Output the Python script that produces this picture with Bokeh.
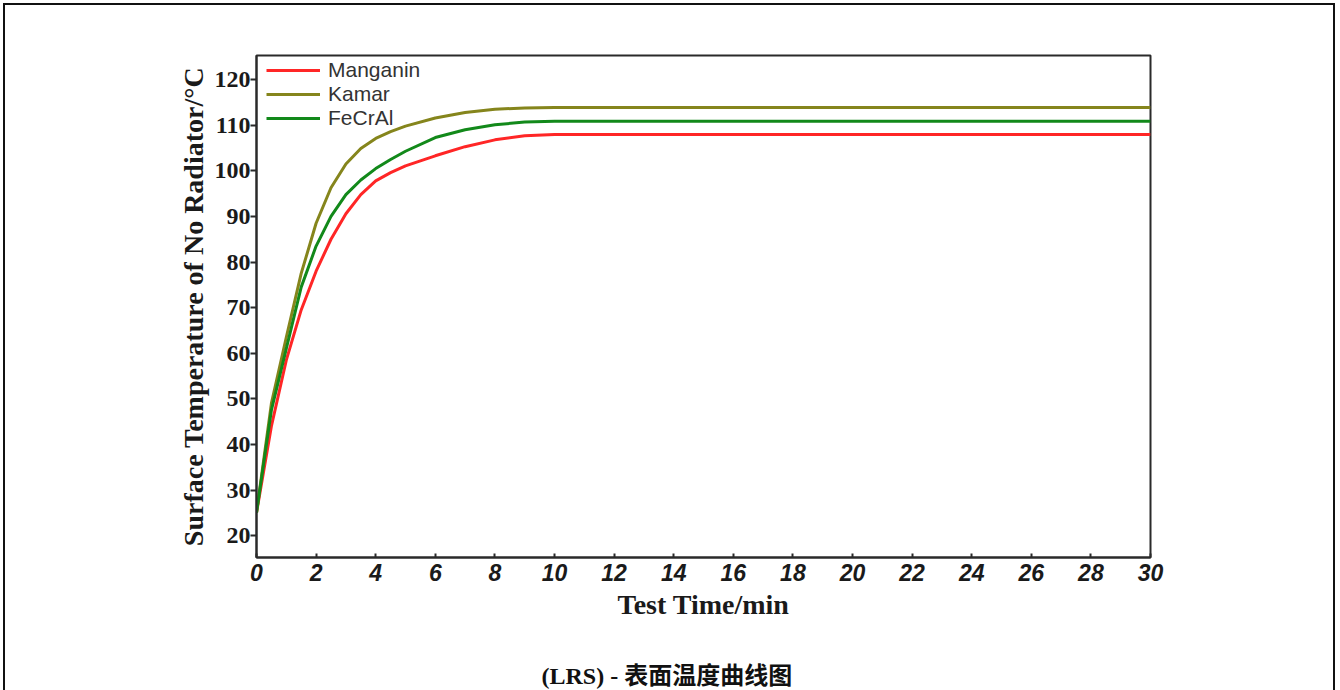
from bokeh.plotting import figure
from bokeh.models import Range1d, FixedTicker, Legend, LegendItem, LinearAxis, Title
from bokeh.embed import file_html
from bokeh.resources import INLINE

# ---- data ----
time_min = [0, 0.5, 1, 1.5, 2, 2.5, 3, 3.5, 4, 4.5, 5, 6, 7, 8, 9, 10, 12, 14, 16, 18, 20, 22, 24, 26, 28, 30]
manganin = [25, 44, 58.5, 69.5, 78, 85, 90.6, 94.8, 97.8, 99.6, 101.1, 103.3, 105.3, 106.8, 107.7, 108, 108, 108, 108, 108, 108, 108, 108, 108, 108, 108]
kamar = [25, 49, 63.5, 77.5, 88.5, 96.3, 101.5, 104.9, 107.1, 108.6, 109.8, 111.6, 112.8, 113.5, 113.8, 113.9, 113.9, 113.9, 113.9, 113.9, 113.9, 113.9, 113.9, 113.9, 113.9, 113.9]
fecral = [25, 47.5, 61, 74.5, 83.5, 90, 94.8, 98, 100.5, 102.5, 104.3, 107.3, 109, 110.1, 110.7, 110.9, 110.9, 110.9, 110.9, 110.9, 110.9, 110.9, 110.9, 110.9, 110.9, 110.9]
series_names = ["Manganin", "Kamar", "FeCrAl"]
series_colors = ["#ff2626", "#85851c", "#12891a"]
x_ticks = list(range(0, 31, 2))
y_ticks = list(range(20, 121, 10))
x_title = "Test Time/min"
y_title = "Surface Temperature of No Radiator/°C"
caption = "(LRS) -  表面温度曲线图"

W, H = 1338, 690
page_border = ("inset 3px 0 0 0 #ffffff, inset -3px 0 0 0 #ffffff, inset 0 3px 0 0 #ffffff, "
               "inset 5px 0 0 0 #111111, inset -5px 0 0 0 #111111, inset 0 5px 0 0 #111111")
p = figure(width=W, height=H, output_backend="svg", toolbar_location=None,
           x_range=Range1d(0, 30), y_range=Range1d(15.2, 125.3),
           min_border_left=256, min_border_right=W - 1150,
           min_border_top=55, min_border_bottom=H - 557,
           background_fill_color="white", border_fill_alpha=0,
           styles={"background-color": "#ffffff", "box-shadow": page_border})
p.grid.visible = False
p.outline_line_color = "#2a2a2a"
p.outline_line_width = 2

renderers = []
for ys, c in zip([manganin, kamar, fecral], series_colors):
    r = p.line(time_min, ys, line_color=c, line_width=3)
    renderers.append(r)

# axes
xa = p.xaxis[0]
xa.ticker = FixedTicker(ticks=x_ticks)
xa.major_tick_in = 4
xa.major_tick_out = 0
xa.minor_tick_in = 0
xa.minor_tick_out = 0
xa.axis_line_color = "#2a2a2a"
xa.axis_line_width = 2
xa.major_tick_line_color = "#2a2a2a"
xa.major_tick_line_width = 2
xa.major_label_text_font = "Liberation Sans"
xa.major_label_text_font_style = "bold italic"
xa.major_label_text_font_size = "23px"
xa.major_label_text_color = "#1a1a1a"
xa.major_label_standoff = 6
xa.axis_label = x_title
xa.axis_label_text_font = "Liberation Serif"
xa.axis_label_text_font_style = "bold"
xa.axis_label_text_font_size = "28px"
xa.axis_label_text_color = "#1a1a1a"
xa.axis_label_standoff = 5

# invisible spacer axis below the x axis, then the caption as a title
spacer = LinearAxis(ticker=FixedTicker(ticks=[]),
                    axis_line_alpha=0, major_tick_line_alpha=0, minor_tick_line_alpha=0,
                    major_tick_in=0, major_tick_out=0, minor_tick_in=0, minor_tick_out=0,
                    major_label_text_font_size="0px", major_label_standoff=0,
                    axis_label=" ", axis_label_standoff=33,
                    axis_label_text_font_size="1px", axis_label_text_alpha=0)
p.add_layout(spacer, "below")
p.add_layout(Title(text=caption, align="left", offset=285, standoff=2,
                   text_font="Liberation Serif, 'Noto Sans CJK SC'",
                   text_font_style="bold", text_font_size="24px", text_color="#111111"), "below")

ya = p.yaxis[0]
ya.ticker = FixedTicker(ticks=y_ticks)
ya.major_tick_in = 0
ya.major_tick_out = 6
ya.minor_tick_in = 0
ya.minor_tick_out = 0
ya.axis_line_color = "#2a2a2a"
ya.axis_line_width = 2
ya.major_tick_line_color = "#2a2a2a"
ya.major_tick_line_width = 2
ya.major_label_text_font = "Liberation Serif"
ya.major_label_text_font_style = "bold"
ya.major_label_text_font_size = "24px"
ya.major_label_text_color = "#1a1a1a"
ya.major_label_standoff = 0
ya.axis_label = y_title
ya.axis_label_text_font = "Liberation Serif"
ya.axis_label_text_font_style = "bold"
ya.axis_label_text_font_size = "28px"
ya.axis_label_text_color = "#1a1a1a"
ya.axis_label_standoff = 3

legend = Legend(items=[LegendItem(label=n, renderers=[r]) for n, r in zip(series_names, renderers)],
                location=(10, 427), padding=0, margin=0, spacing=0,
                glyph_width=54, glyph_height=24, label_height=24,
                label_standoff=8,
                label_text_font="Liberation Sans", label_text_font_size="21px",
                label_text_color="#333333",
                background_fill_alpha=0, border_line_alpha=0)
p.add_layout(legend)

open("out.html", "w").write(file_html(p, INLINE))
